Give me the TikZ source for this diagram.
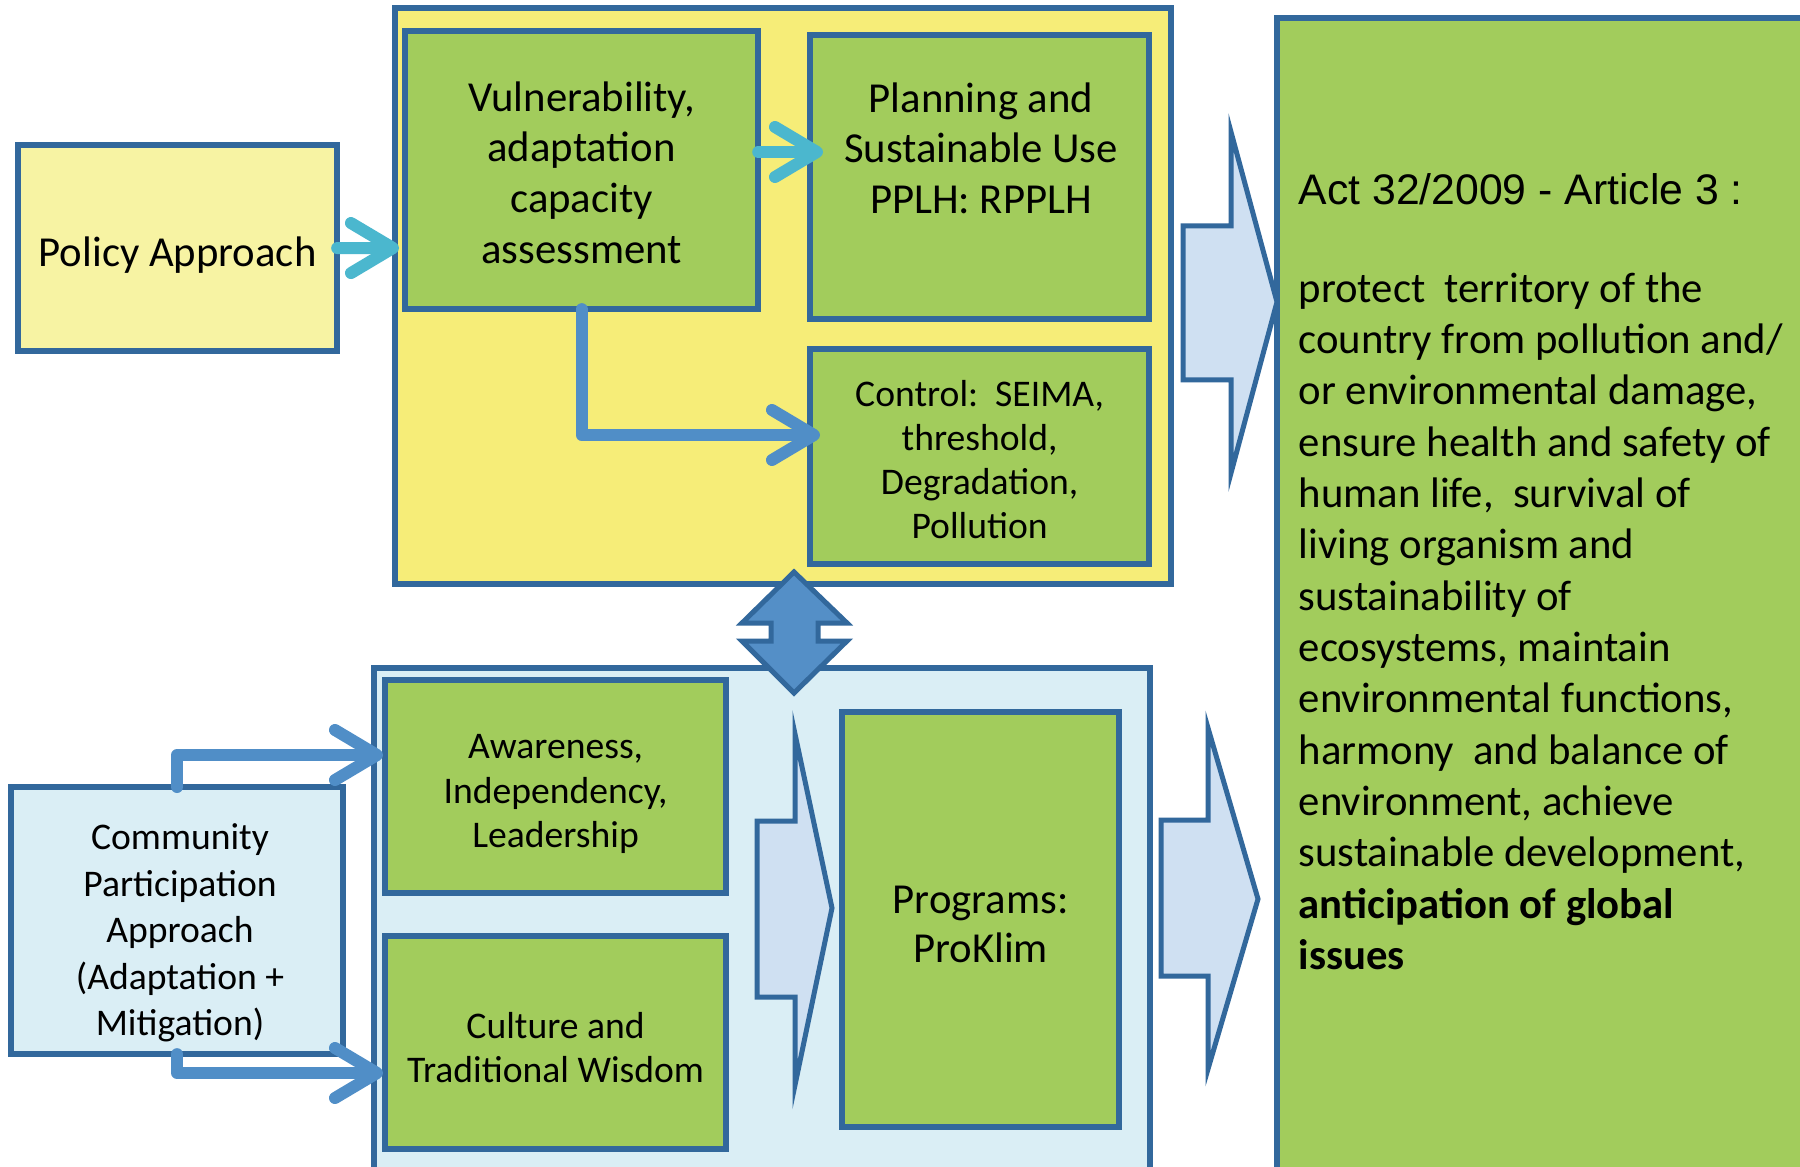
\documentclass[tikz,border=0pt]{standalone}
\usepackage{fontspec}
\setmainfont{Carlito}
\newfontfamily\arialfont{Liberation Sans}
\usetikzlibrary{arrows.meta}
\definecolor{bordercol}{RGB}{50,104,156}
\definecolor{greenfill}{RGB}{162,204,92}
\definecolor{yellowfill}{RGB}{246,237,120}
\definecolor{policyfill}{RGB}{247,243,163}
\definecolor{lightbluefill}{RGB}{218,238,245}
\definecolor{arrowfill}{RGB}{207,224,242}
\definecolor{cyanarrow}{RGB}{75,183,206}
\definecolor{elbowblue}{RGB}{80,142,199}
\definecolor{dblfill}{RGB}{84,143,199}
\tikzset{
  boxbase/.style={draw=bordercol, line width=0.06cm, inner sep=0pt, outer sep=0pt, anchor=north west},
  greenbox/.style={boxbase, fill=greenfill},
  txt/.style={align=center, inner sep=0pt},
  bigfont/.style={font=\fontsize{12.15pt}{14.4pt}\selectfont},
  smallfont/.style={font=\fontsize{10.7pt}{12.6pt}\selectfont},
  shapeline/.style={draw=bordercol, line width=0.05cm, line join=miter},
  arrowbase/.style={line width=0.12cm, line cap=round, line join=round,
    -{Straight Barb[length=0.42cm, width=0.50cm, round]}},
  cyanarr/.style={arrowbase, draw=cyanarrow},
  elbowarr/.style={arrowbase, draw=elbowblue},
}
\begin{document}
\begin{tikzpicture}[x=0.01cm, y=-0.01cm]
\useasboundingbox (0,0) rectangle (1800,1167);
\fill[white] (0,0) rectangle (1800,1167);

% right text box (extends beyond the picture)
\node[greenbox, minimum width=6cm, minimum height=12cm] (actbox) at (1277,18) {};
\node[anchor=north west, align=left, inner sep=0pt, font=\fontsize{12.15pt}{14.6pt}\selectfont] (acttext) at (1298,173)
{{\arialfont Act 32/2009 - Article 3 :}\\[13.1pt]
protect\ \ territory of the\\
country from pollution and/\\
or environmental damage,\\
ensure health and safety of\\
human life,\ \ survival of\\
living organism and\\
sustainability of\\
ecosystems, maintain\\
environmental functions,\\
harmony\ \ and balance of\\
environment, achieve\\
sustainable development,\\
\textbf{anticipation of global}\\
\textbf{issues}};

% upper part
\node[boxbase, fill=policyfill, minimum width=3.19cm, minimum height=2.06cm] (policy) at (18,145) {};
\node[txt, bigfont, yshift=-0.07cm] (policytext) at (policy.center) {Policy Approach};
\node[boxbase, fill=yellowfill, minimum width=7.76cm, minimum height=5.76cm] (policybox) at (395,8) {};
\node[greenbox, minimum width=3.53cm, minimum height=2.78cm] (vuln) at (405,31) {};
\node[txt, bigfont, yshift=-0.025cm] (vulntext) at (vuln.center)
  {Vulnerability,\\adaptation\\capacity\\assessment};
\node[greenbox, minimum width=3.39cm, minimum height=2.84cm] (plan) at (810,35) {};
\node[txt, bigfont] (plantext) at (981,148)
  {Planning and\\Sustainable Use\\PPLH: RPPLH};
\node[greenbox, minimum width=3.39cm, minimum height=2.15cm] (control) at (810,349) {};
\node[txt, smallfont, yshift=-0.03cm] (controltext) at (control.center)
  {Control:\ \ SEIMA,\\threshold,\\Degradation,\\Pollution};

% big arrow to the right (upper)
\draw[shapeline, fill=arrowfill] (1183,226) -- (1231,226) -- (1231,132) -- (1277,302) -- (1231,473) -- (1231,380) -- (1183,380) -- cycle;

% lower part
\node[boxbase, fill=lightbluefill, minimum width=7.76cm, minimum height=5.5cm] (commbox) at (374,668) {};
\node[greenbox, minimum width=3.41cm, minimum height=2.13cm] (aware) at (385,680) {};
\node[txt, smallfont, yshift=-0.075cm] (awaretext) at (aware.center)
  {Awareness,\\Independency,\\Leadership};
\node[greenbox, minimum width=3.41cm, minimum height=2.13cm] (culture) at (385,936) {};
\node[txt, smallfont, yshift=-0.05cm] (culturetext) at (culture.center)
  {Culture and\\Traditional Wisdom};
\node[boxbase, fill=lightbluefill, minimum width=3.32cm, minimum height=2.67cm] (community) at (11,787) {};
\node[txt, font=\fontsize{10.7pt}{13.2pt}\selectfont] (commtext) at (180,933)
  {Community\\Participation\\Approach\\(Adaptation +\\Mitigation)};
\node[greenbox, minimum width=2.77cm, minimum height=4.15cm] (programs) at (842,712) {};
\node[txt, font=\fontsize{12.15pt}{13.9pt}\selectfont, yshift=-0.05cm] (programstext) at (programs.center)
  {Programs:\\ProKlim};

% double arrow between the two parts
\draw[shapeline, fill=dblfill] (794,572) -- (847,623) -- (818,623) -- (818,641) -- (847,641) -- (794,693) -- (742,641) -- (771,641) -- (771,623) -- (742,623) -- cycle;

% small arrow into programs
\draw[shapeline, fill=arrowfill] (757,821) -- (795,821) -- (795,734) -- (832,908) -- (795,1085) -- (795,997) -- (757,997) -- cycle;
% big arrow to the right (lower)
\draw[shapeline, fill=arrowfill] (1161,820) -- (1208,820) -- (1208,728) -- (1258,899) -- (1208,1069) -- (1208,976) -- (1161,976) -- cycle;

% connectors
\coordinate (ptip) at (399,248);
\coordinate (vtip) at (823,152);
\coordinate (ctip) at (820,435);
\coordinate (atip) at (383,755);
\coordinate (btip) at (383,1073);
\draw[cyanarr] (policy.east) -- (ptip);
\draw[cyanarr] (vuln.east |- vtip) -- (vtip);
\draw[elbowarr] (vuln.south) |- (ctip);
\draw[elbowarr] (community.north) |- (atip);
\draw[elbowarr] (community.south) |- (btip);
\end{tikzpicture}
\end{document}
